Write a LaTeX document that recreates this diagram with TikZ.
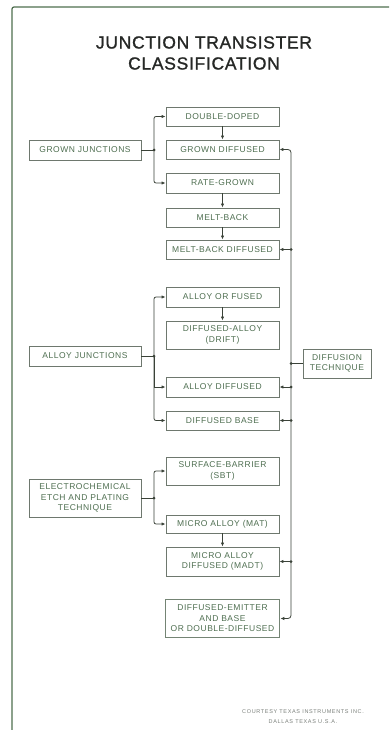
\documentclass[tikz,border=0pt]{standalone}
\usepackage{fontspec}
\setmainfont{Liberation Sans}
\newfontfamily\boxfont[LetterSpace=6]{Liberation Sans}
\newfontfamily\titlefont[LetterSpace=4,FakeBold=1.2]{Liberation Sans}
\newfontfamily\footfont[LetterSpace=12]{Liberation Sans}
\usetikzlibrary{arrows.meta}
\definecolor{framecol}{HTML}{4F6E4F}
\definecolor{boxline}{HTML}{6E786E}
\definecolor{deline}{HTML}{748474}
\definecolor{boxtext}{HTML}{4E6E50}
\definecolor{linecol}{HTML}{3A4238}
\definecolor{titlecol}{HTML}{262826}
\definecolor{footcol}{HTML}{7A7F7A}
\tikzset{
  cbox/.style={draw=boxline, line width=0.9pt, minimum width=113pt, minimum height=19pt,
    inner sep=1pt, align=center, text=boxtext, font=\boxfont\fontsize{8.5}{10.5}\selectfont},
  lbox/.style={cbox, minimum width=112pt},
  conn/.style={draw=linecol, line width=0.8pt},
  arr/.style={conn, -{Latex[length=4pt,width=3.4pt]}},
  dot/.style={fill=linecol},
}
\begin{document}
\begin{tikzpicture}[x=1pt,y=-1pt]
\useasboundingbox (0,0) rectangle (389,730);
% frame
\draw[framecol, line width=1.2pt, rounded corners=2pt] (389,7) -- (12,7) -- (12,730);
% title
\node[text=titlecol, font=\titlefont\fontsize{17.5}{21}\selectfont, align=center] (title) at (204,53)
  {JUNCTION TRANSISTER\\CLASSIFICATION};
% left boxes
\node[lbox, minimum height=20pt] (gj) at (85,150) {GROWN JUNCTIONS};
\node[lbox, minimum height=20pt] (aj) at (85,356) {ALLOY JUNCTIONS};
\node[lbox, minimum height=38pt] (ec) at (85,498) {ELECTROCHEMICAL\\ETCH AND PLATING\\TECHNIQUE};
% middle boxes
\node[cbox] (dd) at (222.5,116.5) {DOUBLE-DOPED};
\node[cbox] (gd) at (222.5,149.5) {GROWN DIFFUSED};
\node[cbox, minimum height=20pt] (rg) at (222.5,183) {RATE-GROWN};
\node[cbox] (mb) at (222.5,217.5) {MELT-BACK};
\node[cbox] (mbd) at (222.5,249.5) {MELT-BACK DIFFUSED};
\node[cbox, minimum height=20pt] (af) at (222.5,297) {ALLOY OR FUSED};
\node[cbox, minimum height=28pt] (da) at (222.5,335) {DIFFUSED-ALLOY\\(DRIFT)};
\node[cbox, minimum height=20pt] (ad) at (222.5,387) {ALLOY DIFFUSED};
\node[cbox] (db) at (222.5,420.5) {DIFFUSED BASE};
\node[cbox, minimum height=28pt] (sb) at (222.5,471) {SURFACE-BARRIER\\(SBT)};
\node[cbox, minimum height=18pt] (ma) at (222.5,524) {MICRO ALLOY (MAT)};
\node[cbox, minimum height=29pt] (madt) at (222.5,561.5) {MICRO ALLOY\\DIFFUSED (MADT)};
\node[cbox, draw=deline, line width=1.7pt, minimum width=114pt, minimum height=38pt] (de) at (222.5,618.5)
  {DIFFUSED-EMITTER\\AND BASE\\OR DOUBLE-DIFFUSED};
% right box
\node[cbox, minimum width=68pt, minimum height=29pt] (dt) at (337,363.5) {DIFFUSION\\TECHNIQUE};
% footer
\node[text=footcol, font=\footfont\fontsize{5.5}{10}\selectfont, align=center] (foot) at (303,717)
  {COURTESY TEXAS INSTRUMENTS INC.\\DALLAS TEXAS U.S.A.};
% junction coordinates
\coordinate (jg) at (154,150);
\coordinate (ja) at (154,356);
\coordinate (je) at (154,498);
\coordinate (rtop) at (291,149.5);
\coordinate (rbot) at (291,618.5);
\coordinate (rmbd) at (291,249.5);
\coordinate (rdt) at (291,363.5);
\coordinate (rad) at (291,387);
\coordinate (rdb) at (291,420.5);
\coordinate (rmadt) at (291,561.5);
% grown branch
\draw[conn] (gj.east) -- (jg);
\draw[arr, rounded corners=2pt] (jg) |- (dd.west);
\draw[arr, rounded corners=2pt] (jg) |- (rg.west);
\draw[arr] (dd.south) -- (gd.north);
\draw[arr] (rg.south) -- (mb.north);
\draw[arr] (mb.south) -- (mbd.north);
% alloy branch
\draw[conn] (aj.east) -- (ja);
\draw[arr, rounded corners=2pt] (ja) |- (af.west);
\draw[arr] (ja) -- (154,387) -- (ad.west);
\draw[arr, rounded corners=2pt] (ja) |- (db.west);
\draw[arr] (af.south) -- (da.north);
% electrochemical branch
\draw[conn] (ec.east) -- (je);
\draw[arr, rounded corners=2pt] (je) |- (sb.west);
\draw[arr, rounded corners=2pt] (je) |- (ma.west);
\draw[arr] (ma.south) -- (madt.north);
% diffusion technique trunk
\draw[conn, {Latex[length=4pt,width=3.4pt]}-{Latex[length=4pt,width=3.4pt]}, rounded corners=3pt]
  (gd.east) -- (rtop) -- (rbot) -- (de.east);
\draw[conn] (dt.west) -- (rdt);
\draw[arr] (rmbd) -- (mbd.east);
\draw[arr] (rad) -- (ad.east);
\draw[arr] (rdb) -- (db.east);
\draw[arr] (rmadt) -- (madt.east);
% dots
\foreach \p in {jg,ja,je,rmbd,rdt,rad,rdb,rmadt} \fill[dot] (\p) circle (1.5pt);
\end{tikzpicture}
\end{document}
